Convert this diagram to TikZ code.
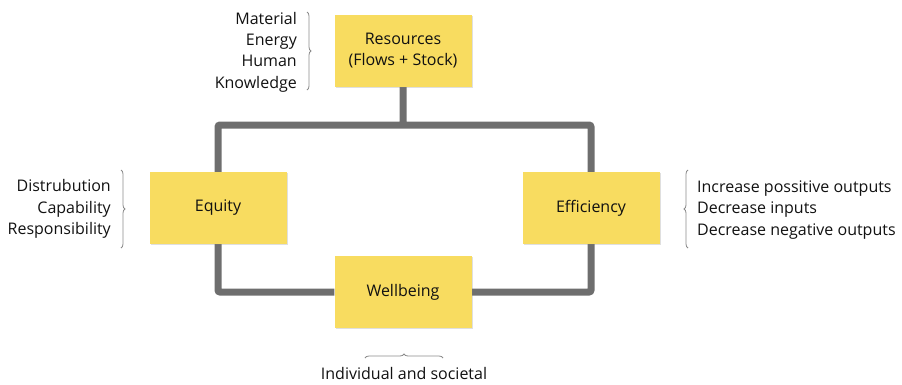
\documentclass[tikz,border=0pt]{standalone}
\usepackage{fontspec}
\setmainfont{Open Sans}
\usetikzlibrary{decorations.pathreplacing,shadows,backgrounds}
\definecolor{boxfill}{HTML}{F8DC60}
\definecolor{linegray}{HTML}{6E6E6E}
\definecolor{bracegray}{HTML}{8A8A8A}
\definecolor{txt}{HTML}{111111}
\begin{document}
\begin{tikzpicture}[x=1pt,y=-1pt,
  box/.style={fill=boxfill,minimum width=137pt,minimum height=72pt,inner sep=0pt,
    align=center,text=txt,font=\fontsize{16}{21}\selectfont,
    drop shadow={shadow xshift=1pt,shadow yshift=-1pt,opacity=0.25}},
  conn/.style={draw=linegray,line width=7pt,rounded corners=2pt},
  lbl/.style={text=txt,font=\fontsize{16}{21.3}\selectfont,inner sep=0pt},
  brc/.style={draw=bracegray,line width=0.8pt,decorate,decoration={brace,amplitude=4pt}}]
\useasboundingbox (0,0) rectangle (902,384);
\coordinate (tl) at (218,125);
\coordinate (tr) at (591,125);
\coordinate (bl) at (218,292);
\coordinate (br) at (591,292);
\node[box] (res) at (403,51) {Resources\\(Flows + Stock)};
\node[box] (eq) at (218,208) {Equity};
\node[box] (ef) at (591,208) {Efficiency};
\node[box] (wb) at (403,292) {Wellbeing};
\begin{scope}[on background layer]
\draw[conn] (res.south) -- (res.south |- tl) (eq.north) -- (tl) -- (tr) -- (ef.north);
\draw[conn] (eq.south) -- (bl) -- (wb.west);
\draw[conn] (wb.east) -- (br) -- (ef.south);
\end{scope}
% labels
\node[lbl,anchor=east,align=right] (resl) at (297,52) {Material\\Energy\\Human\\Knowledge};
\node[lbl,anchor=east,align=right] (eql) at (111,209) {Distrubution\\Capability\\Responsibility};
\node[lbl,anchor=west,align=left] (efl) at (697,210) {Increase possitive outputs\\Decrease inputs\\Decrease negative outputs};
\node[lbl,anchor=center] (wbl) at (404,373) {Individual and societal};
% braces
\coordinate (b1a) at (307,12); \coordinate (b1b) at (307,90);
\draw[brc] (b1a) -- (b1b);
\coordinate (b2a) at (121,170); \coordinate (b2b) at (121,248);
\draw[brc] (b2a) -- (b2b);
\coordinate (b3a) at (688,248); \coordinate (b3b) at (688,170);
\draw[brc] (b3a) -- (b3b);
\coordinate (b4a) at (365,358); \coordinate (b4b) at (443,358);
\draw[brc] (b4a) -- (b4b);
\end{tikzpicture}
\end{document}
